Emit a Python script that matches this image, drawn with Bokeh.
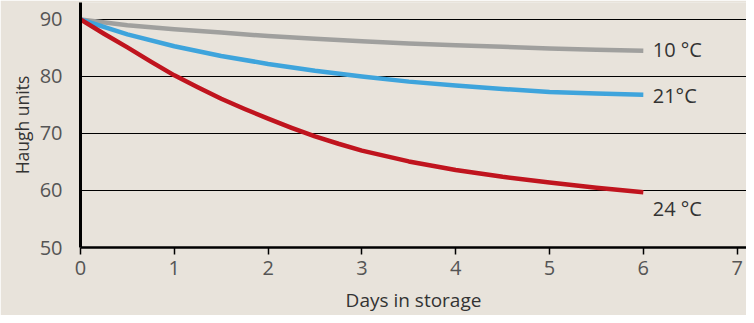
from bokeh.plotting import figure
from bokeh.models import ColumnDataSource, FixedTicker, Range1d
from bokeh.core.properties import value
from bokeh.embed import file_html
from bokeh.resources import INLINE

# data
days = [0, 0.5, 1, 1.5, 2, 2.5, 3, 3.5, 4, 4.5, 5, 5.5, 6]
haugh_10 = [90, 89.0, 88.3, 87.7, 87.1, 86.6, 86.2, 85.8, 85.5, 85.2, 84.9, 84.7, 84.5]
haugh_21 = [90, 87.4, 85.3, 83.6, 82.2, 81.0, 80.0, 79.1, 78.4, 77.8, 77.3, 77.0, 76.8]
days_24 = [0, 0.25, 0.5, 0.75, 1, 1.25, 1.5, 1.75, 2, 2.25, 2.5, 2.75, 3,
           3.5, 4, 4.5, 5, 5.5, 6]
haugh_24 = [90, 87.5, 85.1, 82.6, 80.2, 78.1, 76.1, 74.3, 72.6, 71.0, 69.5, 68.2, 67.0,
            65.1, 63.6, 62.4, 61.4, 60.5, 59.7]

series_names = ["10 °C", "21°C", "24 °C"]
series_colors = ["#a0a09e", "#3ea4dc", "#c0141e"]
label_x = [6.1, 6.1, 6.1]
label_y = [84.7, 76.6, 56.8]

x_ticks = [0, 1, 2, 3, 4, 5, 6, 7]
y_ticks = [50, 60, 70, 80, 90]

BG = "#e8e3db"
FONT = "Open Sans"

p = figure(width=746, height=315, output_backend="svg", toolbar_location=None,
           x_range=Range1d(0, 7.1), y_range=Range1d(50, 92.98),
           min_border_left=80, min_border_right=0, min_border_top=2, min_border_bottom=68,
           background_fill_color=BG, border_fill_color=BG)
p.outline_line_color = None

src = ColumnDataSource(dict(d=days, a=haugh_10, b=haugh_21))
p.line("d", "a", source=src, line_color=series_colors[0], line_width=4.5, line_cap="butt",
       line_join="round")
p.line("d", "b", source=src, line_color=series_colors[1], line_width=4.5, line_cap="butt",
       line_join="round")
src24 = ColumnDataSource(dict(d=days_24, c=haugh_24))
p.line("d", "c", source=src24, line_color=series_colors[2], line_width=4.5, line_cap="butt",
       line_join="round")

lab = ColumnDataSource(dict(x=label_x, y=label_y, t=series_names))
p.text("x", "y", text="t", source=lab, text_font=value(FONT), text_font_size="20px",
       text_color="#333333", text_baseline="middle", text_align="left")

# grid
p.xgrid.grid_line_color = None
p.ygrid.ticker = FixedTicker(ticks=y_ticks)
p.ygrid.grid_line_color = "#000000"
p.ygrid.grid_line_width = 1

# x axis
p.xaxis.ticker = FixedTicker(ticks=x_ticks)
p.xaxis.axis_line_width = 2.5
p.xaxis.axis_line_color = "#000000"
p.xaxis.major_tick_line_color = "#000000"
p.xaxis.major_tick_line_width = 1.5
p.xaxis.major_tick_out = 7
p.xaxis.major_tick_in = 0
p.xaxis.minor_tick_line_color = None
p.xaxis.major_label_standoff = 6
p.xaxis.axis_label = "Days in storage"
p.xaxis.axis_label_standoff = 9

# y axis
p.yaxis.ticker = FixedTicker(ticks=y_ticks)
p.yaxis.axis_line_width = 3
p.yaxis.axis_line_color = "#000000"
p.yaxis.major_tick_line_color = None
p.yaxis.minor_tick_line_color = None
p.yaxis.major_label_standoff = 12
p.yaxis.axis_label = "Haugh units"
p.yaxis.axis_label_standoff = 3

for ax in (p.xaxis[0], p.yaxis[0]):
    ax.major_label_text_font = FONT
    ax.major_label_text_font_size = "20px"
    ax.major_label_text_color = "#555555"
    ax.axis_label_text_font = FONT
    ax.axis_label_text_font_style = "normal"
    ax.axis_label_text_color = "#333333"
p.xaxis.axis_label_text_font_size = "19px"
p.yaxis.axis_label_text_font_size = "17.5px"

open("out.html", "w").write(file_html(p, INLINE))
